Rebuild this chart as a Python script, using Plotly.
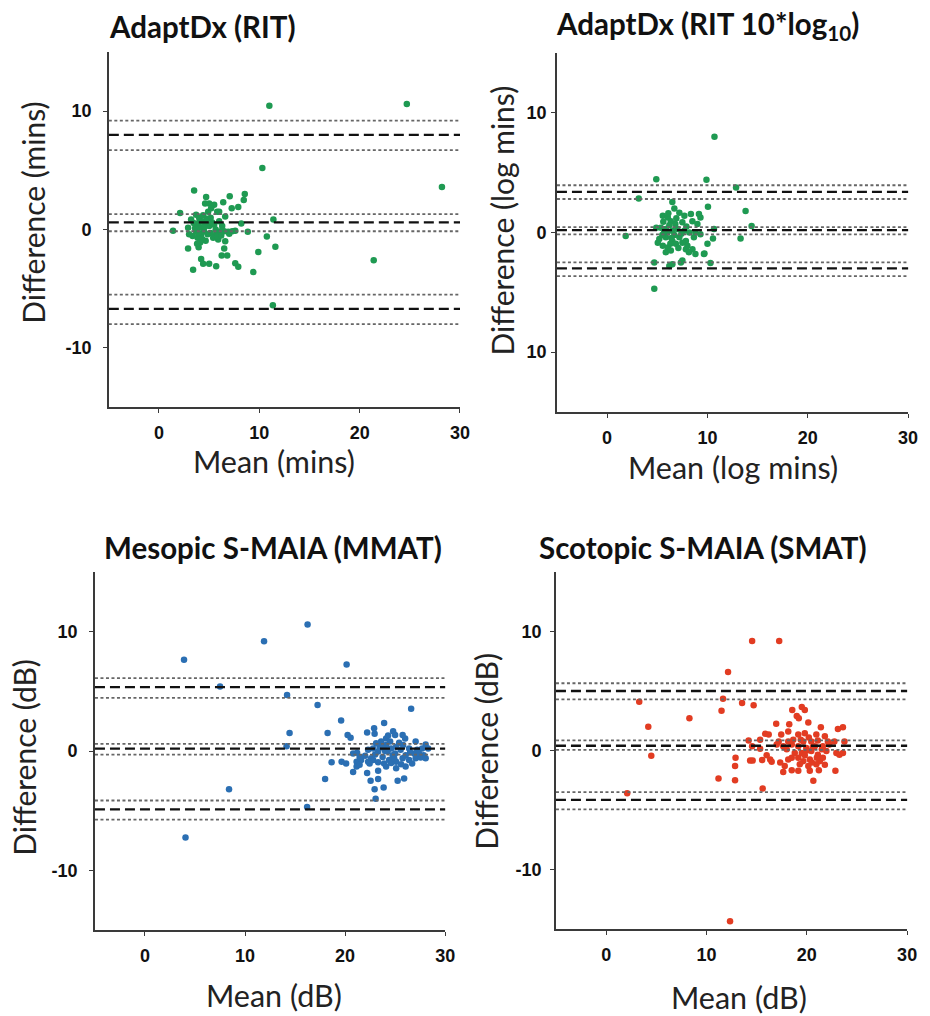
import plotly.graph_objects as go

# ---------------- DATA ----------------
# Panel 1: AdaptDx (RIT)
p1_x = [11.0, 24.7, 10.3, 28.2, 21.4, 11.35, 11.4, 11.6, 10.75, 9.9, 9.4,
        8.55, 8.45, 7.9, 7.05, 6.4, 7.25, 5.8, 5.5, 4.7, 5.0, 3.5, 2.1, 1.4, 6.0,
        2.9, 3.4, 4.2, 4.4, 5.0, 5.7, 6.25, 6.5, 6.8, 7.6, 7.9, 8.85, 8.2, 7.6, 6.9, 7.3, 6.5, 6.6, 5.9, 5.7, 3.95, 3.35, 2.9,
        3.7, 4.0, 4.35, 3.85, 4.2, 4.65, 5.0, 4.5, 5.15, 3.7, 3.85, 4.85, 5.5, 6.0, 5.15, 3.2, 4.2, 4.65, 3.0, 5.65, 6.15,
        4.0, 4.4, 3.6, 4.8, 5.3, 3.9, 4.3, 5.4, 6.3, 3.45, 4.55, 5.8, 6.2, 7.0, 4.1, 3.8, 4.9, 5.2, 6.6, 4.6]
p1_y = [10.45, 10.6, 5.2, 3.6, -2.6, -6.4, 0.85, -1.45, -0.6, -1.9, -3.6,
        3.0, 2.5, 1.9, 2.8, 2.3, 1.8, 1.5, 2.1, 2.75, 2.2, 3.3, 1.4, -0.1, 1.5,
        -1.6, -3.4, -2.5, -2.9, -2.9, -3.1, -2.2, -1.6, -2.2, -2.85, -3.15, -0.2, 0.5, -0.1, -0.2, -0.15, -0.15, -1.0, -0.85, -0.4, -1.5, -0.55, 0.15,
        1.25, 1.0, 0.7, 0.4, 0.15, 0.55, 0.3, -0.15, -0.3, -0.15, -0.7, -0.4, 0.4, 0.7, 1.0, 0.85, -0.4, -0.95, -0.4, 0.0, -0.15,
        0.6, 1.2, 0.1, 0.9, 0.6, -0.3, -0.8, -0.7, 0.3, 0.55, 0.25, -0.6, -0.5, -0.35, -1.1, -1.2, 1.5, 1.8, 1.1, 2.2]
p1_loa = [8.0, 0.6, -6.7]
p1_ci = [9.2, 6.7, 1.3, -0.15, -5.5, -8.0]

# Panel 2: AdaptDx (RIT 10*log10)
p2_x = [10.7, 4.9, 9.9, 12.85, 3.15, 6.5, 6.7, 10.05, 13.8, 14.4, 10.65, 13.3, 1.85, 4.7, 4.7, 6.2, 6.5, 7.35, 7.5, 10.3, 9.7, 10.55, 10.0, 9.65,
        7.2, 7.7, 8.35, 9.15, 9.3, 5.55, 6.05, 6.35, 7.5, 8.5, 9.0, 4.9, 5.35, 5.85, 6.5, 7.0, 7.7, 8.2, 8.8,
        5.2, 5.85, 6.5, 7.2, 7.85, 8.65, 9.3, 5.05, 5.55, 6.05, 6.85, 7.5, 8.0, 8.5, 5.85, 6.35, 7.85, 8.15, 8.8,
        5.6, 6.2, 6.8, 6.0, 6.7, 7.4, 5.5, 6.3, 7.1, 6.1, 5.7, 6.9, 6.4, 7.9]
p2_y = [8.0, 4.45, 4.4, 3.75, 2.85, 2.55, 2.0, 2.15, 1.8, 0.55, 0.3, -0.5, -0.3, -2.5, -4.7, -2.8, -2.65, -2.5, -2.35, -2.55, -1.75, -0.5, -0.95, -1.8,
        1.65, 1.4, 1.55, 1.55, 1.25, 1.4, 1.25, 0.95, 0.85, 0.95, 0.7, 0.4, 0.4, 0.3, 0.15, 0.3, 0.15, 0.0, 0.0,
        -0.55, -0.4, -0.7, -0.4, -0.7, -0.4, -0.15, -0.85, -1.1, -1.25, -0.95, -0.85, -1.1, -1.4, -1.65, -1.5, -1.4, -1.65, -1.8,
        0.9, 0.6, 0.7, 0.0, -0.2, -0.1, -0.2, -0.95, -1.3, 1.6, 0.1, 1.2, -0.45, 0.5]
p2_loa = [3.4, 0.2, -3.0]
p2_ci = [3.95, 2.8, 0.45, -0.15, -2.5, -3.65]
p2_yticktext = ["10", "0", "10"]

# Panel 3: Mesopic S-MAIA (MMAT)
p3_x = [3.9, 4.05, 7.5, 8.4, 11.9, 16.25, 14.2, 14.45, 14.15, 16.2, 17.25, 20.15, 19.6, 18.25, 18.0, 18.65, 26.6, 23.9, 23.05,
        20.25, 20.55, 22.2, 22.9, 22.95, 24.8, 25.0, 25.75, 26.0, 24.1, 23.6, 23.1, 27.05, 28.05, 22.8, 23.45, 24.1, 24.6, 25.1,
        22.3, 23.3, 24.25, 25.55, 26.4, 27.2, 27.7, 28.3, 20.8, 21.45, 22.6, 23.75, 24.75, 26.05, 26.9, 27.85,
        19.65, 20.1, 21.15, 21.6, 22.3, 22.8, 23.3, 23.9, 24.4, 25.1, 25.75, 26.4, 27.05, 27.55, 28.05,
        20.8, 21.15, 21.45, 22.45, 23.3, 24.1, 25.1, 26.05, 26.7, 22.2, 22.55, 23.3, 22.95, 23.85, 25.25, 25.9,
        24.5, 25.4, 24.0, 25.0, 24.6, 23.7, 25.8, 26.5, 24.3, 23.0, 22.0, 21.2, 27.4, 25.6, 24.9]
p3_y = [7.65, -7.25, 5.4, -3.2, 9.2, 10.6, 4.7, 1.5, 0.4, -4.7, 3.85, 7.25, 2.55, 1.5, -2.35, -0.95, 3.55, 2.35, -4.0,
        1.35, 1.1, 1.55, 1.9, 1.45, 1.65, 1.35, 1.35, 1.05, 1.05, 0.8, 0.65, 0.8, 0.55, 0.2, 0.35, 0.5, 0.2, 0.35,
        0.1, -0.05, -0.05, 0.1, 0.2, 0.1, 0.2, 0.2, -0.2, -0.5, -0.6, -0.5, -0.35, -0.35, -0.2, -0.35,
        -0.9, -1.05, -0.9, -0.75, -0.9, -0.75, -0.95, -1.05, -0.75, -0.9, -0.6, -0.75, -0.6, -0.55, -0.6,
        -1.75, -1.3, -1.15, -1.05, -1.65, -1.3, -1.45, -1.3, -1.05, -1.85, -2.5, -2.35, -3.2, -3.05, -2.5, -2.3,
        0.8, 0.7, 0.0, -0.2, -1.0, 0.3, 0.5, -0.1, 1.3, -0.3, -0.4, -0.15, -0.2, -1.1, -0.6]
p3_loa = [5.35, 0.2, -4.9]
p3_ci = [6.1, 4.45, 0.6, -0.3, -4.15, -5.75]

# Panel 4: Scotopic S-MAIA (SMAT)
p4_x = [14.55, 17.25, 12.15, 3.3, 11.65, 11.5, 13.55, 14.7, 4.2, 8.3, 4.5, 2.1, 11.2, 12.85, 12.9, 12.85, 12.35, 15.6,
        18.55, 19.5, 19.8, 19.0, 19.2, 20.15, 16.95, 18.25, 21.4, 23.1, 23.6, 15.85, 16.2, 17.45, 18.15, 19.15, 19.8, 20.95, 21.8,
        14.2, 15.35, 17.2, 18.15, 18.65, 19.65, 20.45, 21.1, 22.1, 22.75, 23.75, 14.55, 17.0, 17.65, 18.5, 19.15, 19.95, 20.8, 21.6, 22.25,
        15.35, 19.5, 20.45, 21.1, 21.95, 22.95, 14.35, 14.6, 15.55, 16.35, 16.5, 17.35, 18.15, 18.5, 19.15, 19.65, 20.3, 21.3, 21.6,
        19.3, 20.15, 20.95, 17.65, 18.5, 19.15, 20.3, 21.2, 22.85, 20.65, 23.25, 23.6,
        20.0, 19.8, 20.6, 21.0, 19.4, 20.2, 18.8, 20.5, 21.5, 18.0, 16.0, 17.8, 21.8]
p4_y = [9.2, 9.2, 6.6, 4.1, 4.35, 3.35, 4.0, 3.8, 2.0, 2.7, -0.45, -3.6, -2.35, -2.5, -0.6, -1.3, -14.35, -3.2,
        3.4, 3.65, 3.4, 2.9, 2.7, 2.35, 2.25, 2.2, 1.95, 1.8, 1.95, 1.4, 1.35, 1.35, 1.6, 1.35, 1.45, 1.35, 1.2,
        0.85, 0.9, 0.75, 0.75, 0.9, 0.75, 0.75, 0.85, 0.75, 0.75, 0.75, 0.35, 0.5, 0.35, 0.5, 0.35, 0.2, 0.35, 0.35, 0.5,
        0.15, -0.2, -0.05, -0.35, -0.05, -0.2, -0.85, -0.85, -0.8, -0.75, -0.95, -1.0, -0.75, -0.6, -0.6, -0.9, -0.75, -0.9, -0.6,
        -1.15, -1.3, -1.15, -1.8, -1.65, -1.7, -1.7, -1.65, -1.7, -2.55, -0.35, -0.2,
        0.0, -0.4, 0.3, -0.6, 0.9, 1.1, -0.2, -1.0, 0.1, 0.1, -0.4, -1.3, -1.2]
p4_loa = [5.0, 0.4, -4.15]
p4_ci = [5.65, 4.3, 0.85, 0.05, -3.5, -4.95]

titles = ["AdaptDx (RIT)", "AdaptDx (RIT 10*log<sub>10</sub>)",
          "Mesopic S-MAIA (MMAT)", "Scotopic S-MAIA (SMAT)"]
x_titles = ["Mean (mins)", "Mean (log mins)", "Mean (dB)", "Mean (dB)"]
y_titles = ["Difference (mins)", "Difference (log mins)", "Difference (dB)", "Difference (dB)"]
x_ticks = [0, 10, 20, 30]
y_ticks = [-10, 0, 10]
y_ticktext = ["-10", "0", "10"]

# ---------------- LAYOUT GEOMETRY (pixels) ----------------
W, H = 930, 1016
# (left, right, top, bottom) of each plot area
boxes = [(110, 465, 52, 407), (563, 918, 53, 412), (96, 450, 572, 930), (562, 917, 572, 929)]
title_pos = [(205, 27), (715, 26), (276, 547), (711, 547)]
xtitle_pos = [(277, 461), (741, 467), (277, 995), (747, 997)]
ytitle_pos = [(33, 213), (507, 221), (24, 757), (491, 751)]
ystandoff = [8, 1, 8, 5]

colors = ["#1f9a52", "#1f9a52", "#2b6fb3", "#e23c22"]
xs = [p1_x, p2_x, p3_x, p4_x]
ys = [p1_y, p2_y, p3_y, p4_y]
loas = [p1_loa, p2_loa, p3_loa, p4_loa]
cis = [p1_ci, p2_ci, p3_ci, p4_ci]

fig = go.Figure()
shapes = []
annotations = []
axis_common = dict(showline=True, linecolor="#3a3a3a", linewidth=1.5, ticks="outside", ticklen=4,
                   tickcolor="#3a3a3a", tickwidth=1.2, showgrid=False, zeroline=False,
                   tickfont=dict(family="Liberation Sans, Arial", size=18, color="#111", weight="bold"))

for i in range(4):
    n = i + 1
    xa = "x" if n == 1 else f"x{n}"
    ya = "y" if n == 1 else f"y{n}"
    l, r, t, b = boxes[i]
    fig.add_trace(go.Scatter(x=xs[i], y=ys[i], mode="markers", xaxis=xa, yaxis=ya,
                             marker=dict(size=6.5, color=colors[i], line=dict(width=0)),
                             showlegend=False, hoverinfo="skip"))
    xkey = "xaxis" if n == 1 else f"xaxis{n}"
    ykey = "yaxis" if n == 1 else f"yaxis{n}"
    yax = dict(axis_common, domain=[1 - b / H, 1 - t / H], range=[-15, 15], tickvals=y_ticks,
               ticktext=p2_yticktext if i == 1 else y_ticktext,
               anchor=xa, ticklabelstandoff=ystandoff[i])
    fig.update_layout({
        xkey: dict(axis_common, domain=[l / W, r / W], range=[-5, 30], tickvals=x_ticks, anchor=ya,
                   ticklabelstandoff=5),
        ykey: yax,
    })
    for v in loas[i]:
        shapes.append(dict(type="line", xref=f"{xa} domain", yref=ya, x0=0, x1=1, y0=v, y1=v,
                           line=dict(color="#111111", width=2.3, dash="10px,5px"), layer="above"))
    for v in cis[i]:
        shapes.append(dict(type="line", xref=f"{xa} domain", yref=ya, x0=0, x1=1, y0=v, y1=v,
                           line=dict(color="#666666", width=1.8, dash="3px,2.5px"), layer="above"))
    tx, ty = title_pos[i]
    annotations.append(dict(text=f"<b>{titles[i]}</b>", x=tx / W, y=1 - ty / H, xref="paper", yref="paper",
                            xanchor="center", yanchor="middle", showarrow=False,
                            font=dict(family="Lato", size=29.5, color="#111")))
    ax_, ay_ = xtitle_pos[i]
    annotations.append(dict(text=x_titles[i], x=ax_ / W, y=1 - ay_ / H, xref="paper", yref="paper",
                            xanchor="center", yanchor="middle", showarrow=False,
                            font=dict(family="Lato", size=30.5, color="#222")))
    bx, by = ytitle_pos[i]
    annotations.append(dict(text=y_titles[i], x=bx / W, y=1 - by / H, xref="paper", yref="paper",
                            xanchor="center", yanchor="middle", showarrow=False, textangle=-90,
                            font=dict(family="Lato", size=30, color="#222")))

fig.update_layout(width=W, height=H, margin=dict(l=0, r=0, t=0, b=0), autosize=False,
                  paper_bgcolor="white", plot_bgcolor="white", shapes=shapes, annotations=annotations)

fig.write_html("out.html", config={"displayModeBar": False},
               post_script="document.body.style.margin='0';document.body.style.overflow='hidden';")
